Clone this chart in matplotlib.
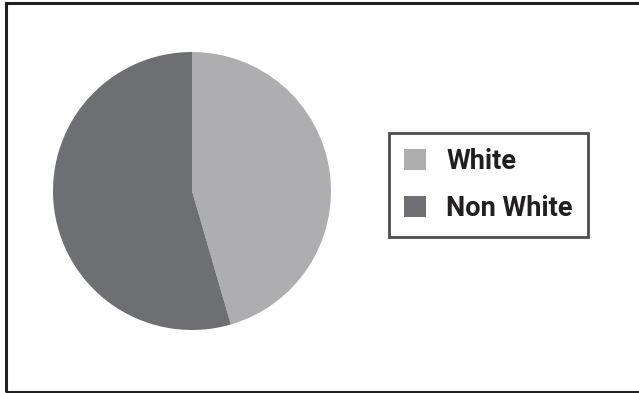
import matplotlib.pyplot as plt
from matplotlib.patches import Patch, Rectangle

labels = ['White', 'Non White']
shares = [45.5, 54.5]
colors = ['#aeaeb0', '#6e6f73']

fig = plt.figure(figsize=(6.39, 3.93), dpi=100)
fig.patch.set_facecolor('white')

# outer frame
fig.add_artist(Rectangle((6/639, 1/393), 640/639, 389/393, transform=fig.transFigure,
                         fill=False, edgecolor='#231f20', linewidth=2.2))

ax = fig.add_axes([53/639, (393-191-139)/393, 278/639, 278/393])
ax.pie(shares, colors=colors, startangle=90, counterclock=False,
       wedgeprops=dict(linewidth=0))
ax.set_xlim(-1, 1)
ax.set_ylim(-1, 1)
ax.set_aspect('auto')
ax.axis('off')

handles = [Patch(facecolor=c, edgecolor='none') for c in colors]
leg = fig.legend(handles, labels, loc='upper left',
                 bbox_to_anchor=(389/639, 1 - 133/393),
                 frameon=True, fancybox=False, edgecolor='#231f20',
                 prop=dict(family='Roboto', weight='bold', size=19.5),
                 handlelength=0.81, handleheight=0.81, handletextpad=0.76,
                 labelspacing=0.75, borderpad=0.55, borderaxespad=0)
leg.get_frame().set_linewidth(2)
for t in leg.get_texts():
    t.set_color('#231f20')

fig.savefig('out.png', dpi=100)
